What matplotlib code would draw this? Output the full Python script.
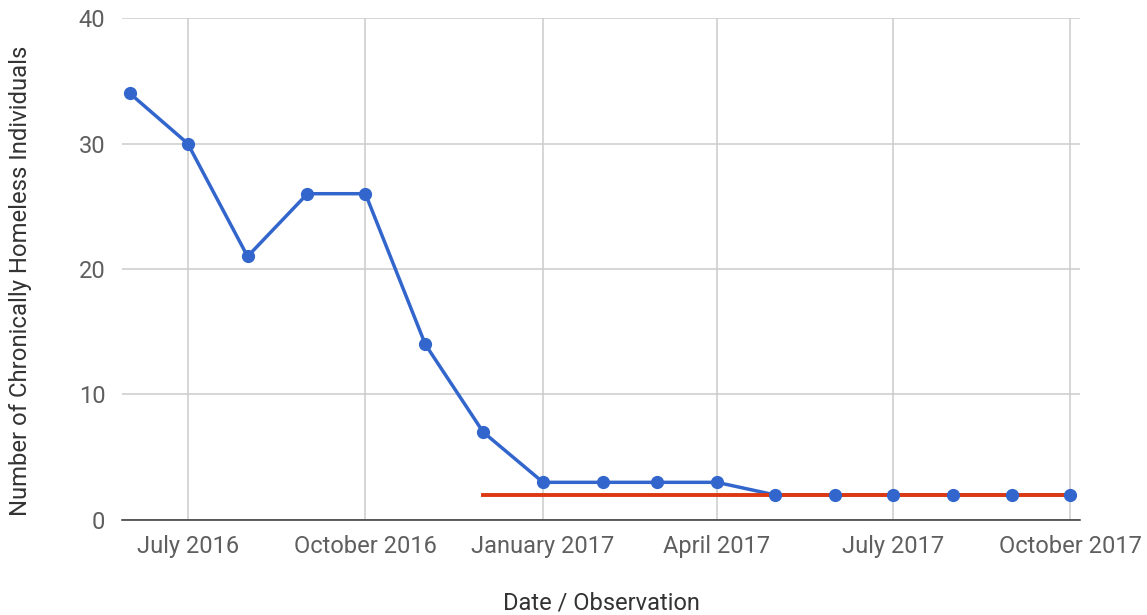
import datetime as dt
import matplotlib.pyplot as plt
import matplotlib.dates as mdates

plt.rcParams['font.family'] = ['Roboto', 'DejaVu Sans']

# monthly observations
months = [dt.date(2016, m, 1) for m in range(6, 13)] + [dt.date(2017, m, 1) for m in range(1, 11)]
counts = [34, 30, 21, 26, 26, 14, 7, 3, 3, 3, 3, 2, 2, 2, 2, 2, 2]

# target line
target_dates = [dt.date(2016, 12, 1), dt.date(2017, 10, 1)]
target_vals = [2, 2]

tick_dates = [dt.date(2016, 7, 1), dt.date(2016, 10, 1), dt.date(2017, 1, 1),
              dt.date(2017, 4, 1), dt.date(2017, 7, 1), dt.date(2017, 10, 1)]

fig = plt.figure(figsize=(11.47, 6.15), dpi=100)
ax = fig.add_axes([0.1064, 0.1545, 0.8352, 0.8162])

blue = '#3366cc'
red = '#dc3912'

ax.plot(months, counts, color=blue, linewidth=2.5, zorder=3)
ax.plot(target_dates, target_vals, color=red, linewidth=2.8, zorder=4)
ax.plot(months, counts, color=blue, linestyle='none', marker='o', markersize=8.5, zorder=5)

ax.set_xlim(dt.date(2016, 5, 28), dt.date(2017, 10, 6))
ax.set_ylim(0, 40)
ax.set_yticks([0, 10, 20, 30, 40])
ax.set_xticks(tick_dates)
ax.xaxis.set_major_formatter(mdates.DateFormatter('%B %Y'))

ax.grid(True, color='#cccccc', linewidth=1.1)
ax.set_axisbelow(True)
for s in ['top', 'right', 'left']:
    ax.spines[s].set_visible(False)
ax.spines['bottom'].set_color('#333333')
ax.spines['bottom'].set_linewidth(1.1)
ax.spines['bottom'].set_zorder(2)
ax.tick_params(length=0, labelsize=17, colors='#5f5f5f', pad=11)
ax.tick_params(axis='y', pad=12)

ax.set_xlabel('Date / Observation', fontsize=17, color='#333333', labelpad=24)
ax.set_ylabel('Number of Chronically Homeless Individuals', fontsize=17.2, color='#333333')
ax.yaxis.set_label_coords(-0.094, 0.476)

fig.savefig('out.png', dpi=100)
